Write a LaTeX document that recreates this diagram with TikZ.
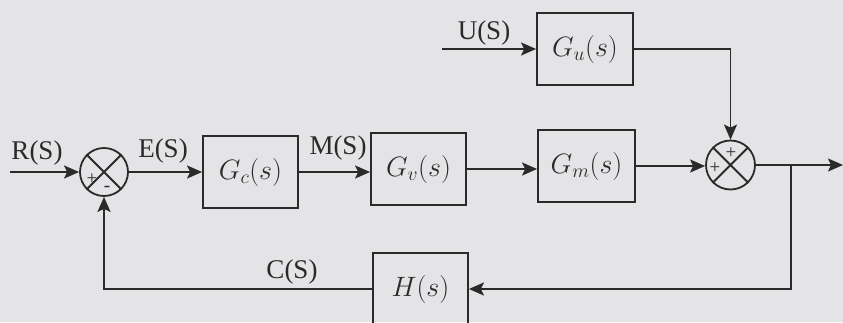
\RequirePackage{fix-cm}
\documentclass[tikz,border=0pt]{standalone}
\usepackage{fontspec}
\setmainfont{Liberation Serif}
\usetikzlibrary{arrows.meta}
\definecolor{bg}{HTML}{E4E4E6}
\definecolor{ink}{HTML}{2A2A2A}
\tikzset{
  blk/.style={draw=ink, line width=1.8pt, minimum width=95pt, minimum height=72pt, inner sep=0pt, text=ink, font=\fontsize{28}{30}\selectfont},
  sumnode/.style={draw=ink, line width=1.8pt, circle, minimum size=48pt, inner sep=0pt},
  lbl/.style={text=ink, font=\fontsize{27}{29}\selectfont, inner sep=0pt},
  sgn/.style={text=ink, font=\fontsize{19}{20}\selectfont, inner sep=0pt},
  sig/.style={draw=ink, line width=1.8pt, -{Stealth[length=15pt, width=13pt, inset=3pt]}},
  wire/.style={draw=ink, line width=1.8pt}
}
\begin{document}
\begin{tikzpicture}[x=1pt, y=-1pt]
\useasboundingbox[fill=bg] (0,0) rectangle (843,322);
\clip (0,0) rectangle (843,322);
% blocks
\node[sumnode] (s1) at (104,172) {};
\node[blk] (gc) at (250.5,172) {$G_c(s)$};
\node[blk] (gv) at (418.5,169) {$G_v(s)$};
\node[blk, minimum width=97pt] (gm) at (586.5,166) {$G_m(s)$};
\node[blk, minimum width=96pt] (gu) at (585,49) {$G_u(s)$};
\node[sumnode, minimum size=49pt] (s2) at (730.5,165) {};
\node[blk] (h) at (420.5,289) {$H(s)$};
% crosses
\draw[wire] (s1.north west) -- (s1.south east) (s1.north east) -- (s1.south west);
\draw[wire] (s2.north west) -- (s2.south east) (s2.north east) -- (s2.south west);
% signs
\node[sgn] (p1) at (92,179) {+};
\node[sgn] (m1) at (107,189) {-};
\node[sgn] (p2) at (731,153) {+};
\node[sgn] (p3) at (715,168) {+};
% coordinates
\coordinate (rin) at (10,172);
\coordinate (uin) at (442,49);
\coordinate (out) at (843,165);
\coordinate (br) at (791,165);
% connectors
\draw[sig] (rin) -- (s1.west);
\draw[sig] (s1.east) -- (gc.west);
\draw[sig] (gc.east) -- (gc.east -| gv.west);
\draw[sig] (gv.east) -- (gv.east -| gm.west);
\draw[sig] (gm.east) -- (gm.east -| s2.west);
\draw[sig] (uin) -- (gu.west);
\draw[sig] (gu.east) -| (s2.north);
\draw[sig] (s2.east) -- (out);
\draw[sig] (br) |- (h.east);
\draw[sig] (h.west) -| (s1.south);
% labels
\node[lbl] (lr) at (37,153) {R(S)};
\node[lbl] (le) at (163,151) {E(S)};
\node[lbl] (lm) at (338,148) {M(S)};
\node[lbl] (lu) at (484,33) {U(S)};
\node[lbl] (lc) at (292,272) {C(S)};
\end{tikzpicture}
\end{document}
